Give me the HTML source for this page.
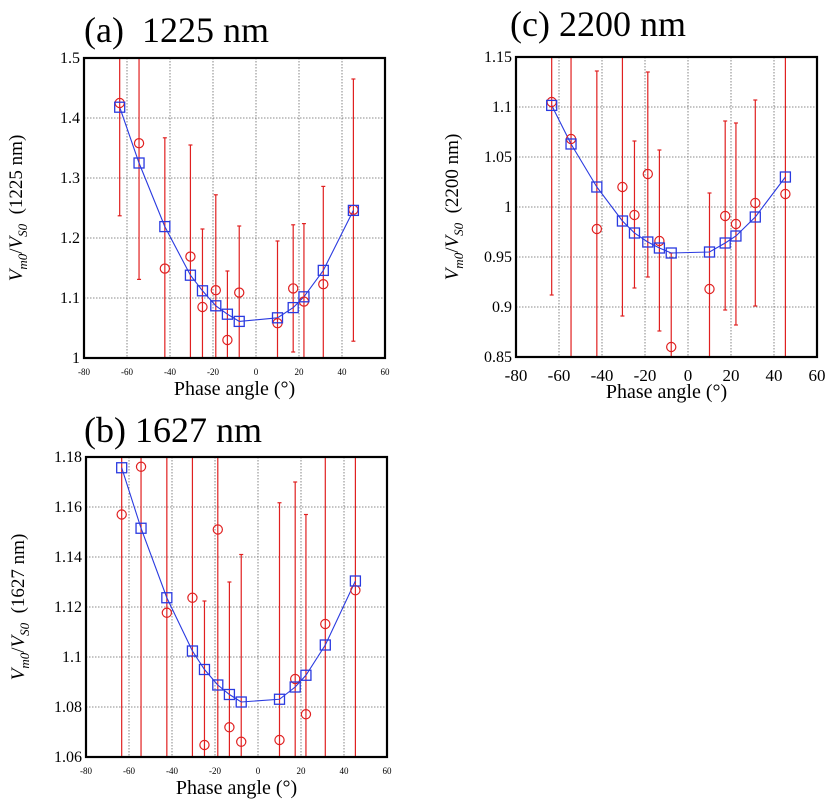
<!DOCTYPE html>
<html><head><meta charset="utf-8"><style>
html,body{margin:0;padding:0;background:#fff;width:834px;height:810px;overflow:hidden}
svg{display:block}
text{font-family:"Liberation Serif",serif}
</style></head><body>
<svg id="svg" width="834" height="810"></svg>
<script>
const phaseAngles = [-63.4,-54.4,-42.4,-30.5,-24.9,-18.7,-13.3,-7.8,10,17.3,22.3,31.3,45.3];
// panel a (1225 nm)
const fitA = [1.418,1.325,1.219,1.138,1.112,1.087,1.073,1.061,1.067,1.084,1.102,1.146,1.246];
const obsA = [1.425,1.358,1.149,1.169,1.085,1.113,1.030,1.109,1.058,1.116,1.094,1.123,1.247];
const hiA  = [1.6,1.6,1.367,1.355,1.215,1.272,1.145,1.220,1.195,1.222,1.224,1.286,1.465];
const loA  = [1.237,1.131,0.9,0.9,0.9,0.9,0.9,0.9,0.9,1.010,0.9,0.9,1.028];
const yTicksA = ["1","1.1","1.2","1.3","1.4","1.5"];
// panel c (2200 nm)
const fitC = [1.1016,1.063,1.020,0.986,0.974,0.965,0.959,0.954,0.955,0.964,0.971,0.990,1.030];
const obsC = [1.105,1.068,0.978,1.020,0.992,1.033,0.966,0.860,0.918,0.991,0.983,1.004,1.013];
const hiC  = [1.2,1.2,1.136,1.2,1.066,1.135,1.057,0.954,1.014,1.086,1.084,1.107,1.2];
const loC  = [0.912,0.8,0.8,0.891,0.919,0.930,0.876,0.8,0.8,0.897,0.882,0.901,0.8];
const yTicksC = ["0.85","0.9","0.95","1","1.05","1.1","1.15"];
// panel b (1627 nm)
const fitB = [1.1757,1.1515,1.1237,1.1024,1.095,1.0888,1.085,1.082,1.0831,1.088,1.0927,1.1048,1.1304];
const obsB = [1.157,1.1761,1.1177,1.1237,1.0648,1.151,1.0719,1.0661,1.0668,1.0912,1.0771,1.1132,1.1267];
const hiB  = [1.2,1.2,1.2,1.2,1.1224,1.2,1.130,1.141,1.1617,1.170,1.157,1.2,1.2];
const loB  = [1.0,1.0,1.0,1.0,1.0,1.0,1.0,1.0,1.0,1.0,1.0,1.0,1.0];
const yTicksB = ["1.06","1.08","1.1","1.12","1.14","1.16","1.18"];
const xTicks = ["-80","-60","-40","-20","0","20","40","60"];

const NS="http://www.w3.org/2000/svg";
const svg=document.getElementById('svg');
function mk(tag,attrs,parent,txt){const e=document.createElementNS(NS,tag);for(const k in attrs)e.setAttribute(k,attrs[k]);if(txt!==undefined)e.textContent=txt;(parent||svg).appendChild(e);return e;}

function panel(id,L,T,R,B,ymin,ymax,yTicks,fit,obs,hi,lo,title,tx,ty,ylab,bigX){
  const g=mk('g',{});
  
  
  const X=v=>L+(v+80)/140*(R-L);
  const Y=v=>B-(v-ymin)/(ymax-ymin)*(B-T);
  const clampV=v=>Math.max(ymin,Math.min(ymax,v));
  xTicks.forEach((t,i)=>{const x=X(+t);
    if(i>0&&i<xTicks.length-1){const l=mk('line',{x1:x,x2:x,y1:T,y2:B,stroke:'#666','stroke-width':0.8,'stroke-dasharray':'1.5,1.5'},g);
      }
    const tl=mk('text',{x:x,y:B+(bigX?24:17),'text-anchor':'middle','font-size':bigX?17:9,'font-family':bigX?'Liberation Serif':'Liberation Mono'},g,t);
    
  });
  yTicks.forEach((t,i)=>{const y=Y(+t);
    if(i>0&&i<yTicks.length-1){const l=mk('line',{x1:L,x2:R,y1:y,y2:y,stroke:'#666','stroke-width':0.8,'stroke-dasharray':'1.5,1.5'},g);
      }
    const tl=mk('text',{x:L-4,y:y+5,'text-anchor':'end','font-size':16},g,t);
    
  });
  const data=mk('g',{},g);
  phaseAngles.forEach((a,i)=>{const x=X(a);
    const eb=mk('line',{x1:x,x2:x,y1:Y(clampV(hi[i])),y2:Y(clampV(lo[i])),stroke:'#e02020','stroke-width':1.2},data);
    
    [hi[i],lo[i]].forEach(v=>{ if(v>ymin&&v<ymax){
      const c=mk('line',{x1:x-2,x2:x+2,y1:Y(v),y2:Y(v),stroke:'#e02020','stroke-width':1.2},data);
      }});
  });
  const pl=mk('polyline',{points:phaseAngles.map((a,i)=>X(a)+','+Y(fit[i])).join(' '),fill:'none',stroke:'#2a3ae0','stroke-width':1.1},data);
  
  phaseAngles.forEach((a,i)=>{
    const c=mk('circle',{cx:X(a),cy:Y(obs[i]),r:4.6,fill:'none',stroke:'#e02020','stroke-width':1.2},data);
    
    const s=mk('rect',{x:X(a)-5,y:Y(fit[i])-5,width:10,height:10,fill:'none',stroke:'#2a3ae0','stroke-width':1.3},data);
    
  });
  const fr=mk('rect',{x:L,y:T,width:R-L,height:B-T,fill:'none',stroke:'#000','stroke-width':2.2},g);
  
  const ti=mk('text',{x:tx,y:ty,'font-size':36},g,title);
  
  const xl=mk('text',{x:(L+R)/2,y:B+(bigX?41:37),'text-anchor':'middle','font-size':20},g,'Phase angle (°)');
  
  const cy=(T+B)/2, cx=L-(bigX?58:62);
  const yl=mk('text',{x:cx,y:cy,'text-anchor':'middle','font-size':19,transform:`rotate(-90 ${cx} ${cy})`},g);
  
  yl.innerHTML=`<tspan font-style="italic">V</tspan><tspan font-style="italic" font-size="13" dy="5">m0</tspan><tspan dy="-5">/</tspan><tspan font-style="italic">V</tspan><tspan font-style="italic" font-size="13" dy="5">S0</tspan><tspan dy="-5">\u00a0\u00a0(${ylab})</tspan>`;
}
panel('a',84,58,385,358,1,1.5,yTicksA,fitA,obsA,hiA,loA,'(a)\u00a0\u00a01225 nm',84,42,'1225 nm',false);
panel('c',516,57,817,357,0.85,1.15,yTicksC,fitC,obsC,hiC,loC,'(c) 2200 nm',510,36,'2200 nm',true);
panel('b',86,457,387,757,1.06,1.18,yTicksB,fitB,obsB,hiB,loB,'(b) 1627 nm',84,442,'1627 nm',false);
</script>
</body></html>
